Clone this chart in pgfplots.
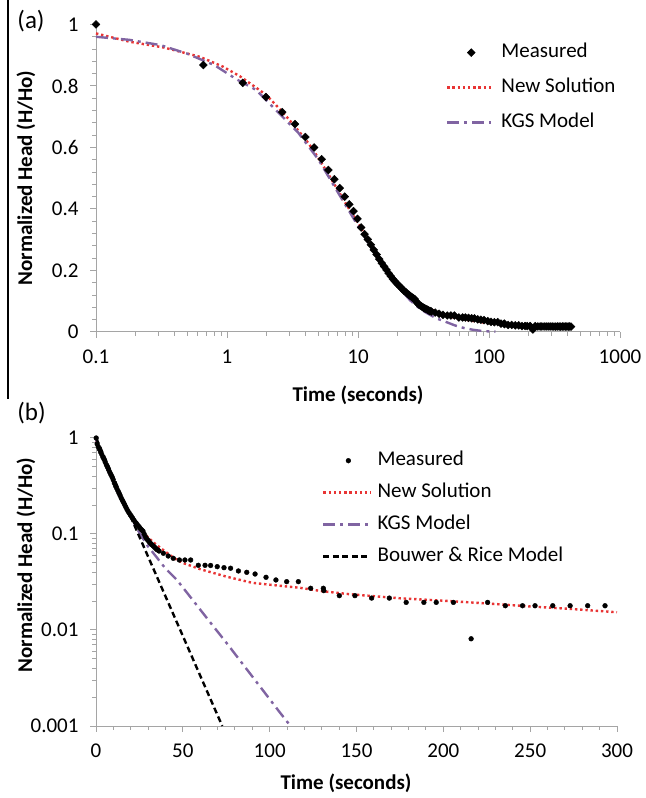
\documentclass[border=0pt]{standalone}
\usepackage{pgfplots}
\pgfplotsset{compat=1.18}
\usepackage{pgfplotstable}
\usepackage{fontspec}
\setmainfont{Carlito}
\definecolor{newsol}{RGB}{232,52,52}
\definecolor{kgs}{RGB}{128,100,162}
\definecolor{axgray}{RGB}{165,165,165}
\newcommand{\fs}{\fontsize{21bp}{25bp}\selectfont}

\pgfplotstableread{
t h
0.1 1.0
0.66 0.868
1.32 0.81
1.98 0.764
2.64 0.715
3.30 0.676
3.96 0.634
4.62 0.600
5.28 0.562
5.94 0.527
6.60 0.497
7.26 0.468
7.92 0.440
8.58 0.415
9.24 0.393
9.90 0.368
10.56 0.340
11.22 0.318
11.88 0.301
12.54 0.284
13.20 0.267
13.86 0.252
14.52 0.237
15.18 0.224
15.84 0.213
16.50 0.202
17.16 0.191
17.82 0.181
18.48 0.172
19.14 0.165
19.80 0.158
20.46 0.152
21.12 0.146
21.78 0.140
22.44 0.134
23.10 0.130
23.76 0.125
24.42 0.121
25.08 0.117
25.74 0.113
26.40 0.110
27.06 0.107
27.72 0.100
28.38 0.094
29.04 0.090
29.70 0.087
30.36 0.084
31.02 0.081
31.68 0.079
32.34 0.077
33.00 0.075
33.66 0.073
34.32 0.071
34.98 0.069
35.64 0.068
36.30 0.0665
38.8 0.063
41.6 0.059
44.5 0.0558
48.0 0.0536
51.2 0.0536
54.5 0.0536
58.9 0.0472
62.8 0.0472
66.0 0.0470
69.8 0.0457
73.7 0.0446
77.5 0.0440
82.0 0.0412
86.8 0.0399
91.6 0.0383
97.9 0.0354
103.6 0.0332
109.8 0.0319
116.5 0.0319
123.6 0.0272
130.9 0.0272
131.2 0.0257
140.1 0.0228
149.1 0.0228
158.7 0.0215
168.9 0.0215
178.6 0.0194
188.8 0.0194
195.9 0.0194
205.8 0.0194
216.0 0.0081
225.5 0.0194
235.7 0.0179
245.6 0.0179
252.8 0.0179
263.0 0.0179
273.0 0.0179
283.1 0.0179
293.1 0.0179
303 0.0179
313 0.0176
323 0.0176
333 0.0179
343 0.0176
353 0.0176
363 0.0179
373 0.0176
383 0.0176
393 0.0176
403 0.0176
413 0.0179
423 0.0176
}\measured

\pgfplotstableread{
t h
0.1 0.971
0.18 0.944
0.33 0.925
0.62 0.895
0.93 0.863
1.25 0.832
1.6 0.800
1.99 0.771
2.4 0.735
2.85 0.700
3.5 0.655
4.2 0.613
5 0.565
6 0.510
7 0.462
8 0.420
9 0.385
10 0.354
11 0.325
12 0.298
13 0.274
14 0.252
15 0.232
16 0.214
17 0.198
18 0.184
20 0.160
22 0.141
24 0.125
26 0.112
28 0.101
30 0.092
33 0.082
36.9 0.072
45 0.056
50 0.050
60 0.043
75 0.036
90 0.031
105 0.0290
117.5 0.0275
130 0.0254
146 0.0236
160 0.0225
175 0.0214
200 0.0202
225 0.0189
250 0.0176
275 0.0165
300 0.0153
}\newsoltab

\pgfplotstableread{
t h
0.1 0.96
0.18 0.95
0.31 0.933
0.49 0.906
0.8 0.868
1.18 0.822
1.67 0.787
2.5 0.711
3.5 0.648
5 0.560
7 0.455
10 0.345
13 0.265
16 0.205
20 0.150
25 0.103
30 0.074
35 0.057
40 0.0437
46.6 0.0332
55 0.0213
65 0.0125
75 0.0074
85 0.0043
95 0.0025
105 0.00145
112 0.001
}\kgstab

\pgfplotstableread{
t h
0.1 1.0
72.7 0.001
}\brtab

\pgfplotsset{
  myaxis/.style={
    scale only axis,
    axis x line*=bottom, axis y line*=left,
    axis line style={draw=axgray, line width=1bp},
    tick align=outside,
    major tick length=6bp, minor tick length=4bp,
    tick style={draw=axgray, line width=1bp},
    tick label style={font=\fs, text=black},
    /pgf/number format/assume math mode=true,
    clip=false,
    legend cell align=left,
    xticklabel style={yshift=-8bp},
    yticklabel style={xshift=-8bp},
  },
  lineleg/.style={legend image code/.code={\draw[##1] (0bp,0bp) -- (#1,0bp);}},
  markA/.style={legend image code/.code={\draw[mark repeat=2,mark phase=2,##1] plot coordinates {(0bp,0bp)(24bp,0bp)(44bp,0bp)};}},
  markB/.style={legend image code/.code={\draw[mark repeat=2,mark phase=2,##1] plot coordinates {(0bp,0bp)(25bp,0bp)(47bp,0bp)};}},
}

\begin{document}
\begin{tikzpicture}[x=1bp,y=1bp]
\useasboundingbox (0,0) rectangle (646,798);
% ---------------- panel (a)
\begin{axis}[myaxis, at={(96bp,466bp)}, anchor=south west,
  width=524bp, height=307.5bp,
  xmode=log, xmin=0.1, xmax=1000, ymin=0, ymax=1,
  xtick={0.1,1,10,100,1000}, xticklabels={0.1,1,10,100,1000},
  minor xtick={0.2,0.3,0.4,0.5,0.6,0.7,0.8,0.9,2,3,4,5,6,7,8,9,20,30,40,50,60,70,80,90,200,300,400,500,600,700,800,900},
  ytick={0,0.2,0.4,0.6,0.8,1}, yticklabels={0,0.2,0.4,0.6,0.8,1},
  minor y tick num=4,
  legend style={at={(axis description cs:0.662,0.948)}, anchor=north west,
    draw=none, fill=none, font=\fs, row sep=15bp,
    /tikz/every odd column/.append style={column sep=4bp},
    nodes={inner sep=0pt, inner xsep=5bp, text height=15bp, text depth=5bp}},
]
\addplot[only marks, mark=square*, mark size=2.8bp, mark options={rotate=45, line width=0.4bp}, markA]
  table[x=t,y=h]{\measured};
\addlegendentry{Measured}
\addplot[newsol, line width=2.4bp, dash pattern=on 2.4bp off 2.8bp, lineleg=44bp] table[x=t,y=h]{\newsoltab};
\addlegendentry{New Solution}
\addplot[kgs, line width=2.4bp, dash pattern=on 12bp off 5bp on 3bp off 5bp, lineleg=44bp] table[x=t,y=h]{\kgstab};
\addlegendentry{KGS Model}
\end{axis}
% ---------------- panel (b)
\begin{axis}[myaxis, at={(96bp,72bp)}, anchor=south west,
  width=521bp, height=288bp,
  xmin=0, xmax=300, ymode=log, ymin=0.001, ymax=1,
  xtick={0,50,100,150,200,250,300}, minor x tick num=4,
  ytick={0.001,0.01,0.1,1}, yticklabels={0.001,0.01,0.1,1},
  minor ytick={0.002,0.003,0.004,0.005,0.006,0.007,0.008,0.009,0.02,0.03,0.04,0.05,0.06,0.07,0.08,0.09,0.2,0.3,0.4,0.5,0.6,0.7,0.8,0.9},
  legend style={at={(axis description cs:0.428,0.9635)}, anchor=north west,
    draw=none, fill=none, font=\fs, row sep=12bp,
    /tikz/every odd column/.append style={column sep=1bp},
    nodes={inner sep=0pt, inner xsep=5bp, text height=15bp, text depth=5bp}},
]
\addplot[only marks, mark=*, mark size=2.4bp, markB, restrict x to domain=0:300]
  table[x=t,y=h]{\measured};
\addlegendentry{Measured}
\addplot[newsol, line width=2.4bp, dash pattern=on 2.4bp off 2.8bp, lineleg=47bp] table[x=t,y=h]{\newsoltab};
\addlegendentry{New Solution}
\addplot[kgs, line width=2.4bp, dash pattern=on 12bp off 5bp on 3bp off 5bp, lineleg=47bp] table[x=t,y=h]{\kgstab};
\addlegendentry{KGS Model}
\addplot[black, line width=2.4bp, dash pattern=on 6bp off 3.5bp, lineleg=47bp] table[x=t,y=h]{\brtab};
\addlegendentry{Bouwer \& Rice Model}
\end{axis}
% titles and labels
\node[font=\bfseries\fs] at (358,403) {Time (seconds)};
\node[font=\bfseries\fs] at (346,15) {Time (seconds)};
\node[font=\bfseries\fs, rotate=90] at (26,620) {Normalized Head (H/Ho)};
\node[font=\bfseries\fs, rotate=90] at (26,233) {Normalized Head (H/Ho)};
\node[font=\fontsize{25bp}{30bp}\selectfont] at (31,777) {(a)};
\node[font=\fontsize{25bp}{30bp}\selectfont] at (31.5,385) {(b)};
\draw[line width=1.5bp] (8,798) -- (8,399);
\end{tikzpicture}
\end{document}
